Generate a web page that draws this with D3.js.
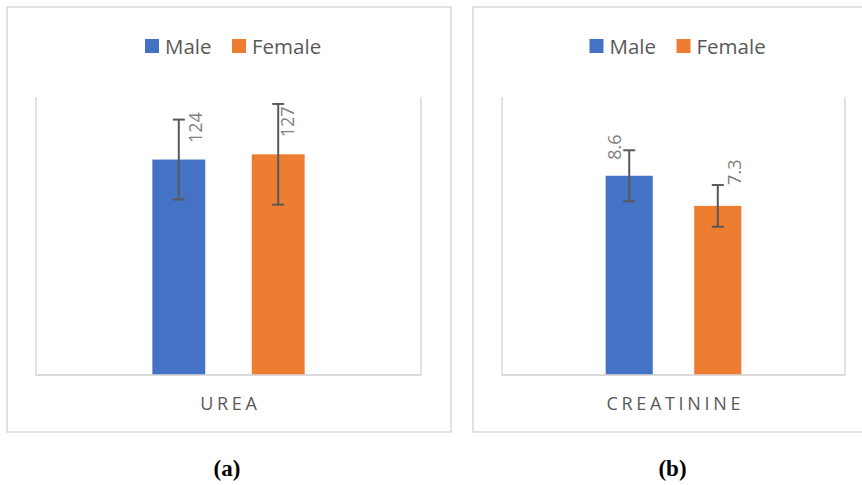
<!DOCTYPE html>
<html>
<head>
<meta charset="utf-8">
<script src="https://cdn.jsdelivr.net/npm/d3@7"></script>
<style>
  html, body { margin: 0; padding: 0; background: #fff; }
  svg { display: block; }
</style>
</head>
<body>
<svg id="chart" width="862" height="485"></svg>
<script>
// Serum urea and creatinine by sex: mean with standard deviation
const series = ["Male", "Female"];
const seriesColors = ["#4472c4", "#ed7d31"];

const ureaCategory = ["UREA"];
const ureaMeans = [124, 127];
const ureaSD = [23, 29];
const ureaTicks = [0, 160];

const creatCategory = ["CREATININE"];
const creatMeans = [8.6, 7.3];
const creatSD = [1.1, 0.9];
const creatTicks = [0, 12];

const panelCaptions = ["(a)", "(b)"];

const svg = d3.select("#chart");
const gridColor = "#d9d9d9";
const textColor = "#595959";
const labelColor = "#7f7f7f";
const font = "'Open Sans', 'Noto Sans', sans-serif";

function drawPanel(cfg) {
  const g = svg.append("g");

  // chart frame
  g.append("rect")
    .attr("x", cfg.frame[0]).attr("y", cfg.frame[1])
    .attr("width", cfg.frame[2]).attr("height", cfg.frame[3])
    .attr("fill", "#fff").attr("stroke", gridColor).attr("stroke-width", 1.5);

  const left = cfg.plot[0], right = cfg.plot[1], top = cfg.plot[2], bottom = cfg.plot[3];

  const y = d3.scaleLinear().domain(cfg.ticks).range([bottom, top]);

  // one category, two series side by side (gap width 220%, overlap -88%)
  const x0 = d3.scaleBand().domain(cfg.category).range([left, right])
    .paddingInner(0).paddingOuter(0.764);
  const x1 = d3.scaleBand().domain(series).range([0, x0.bandwidth()])
    .paddingInner(0.468).paddingOuter(0);

  // plot area edges
  g.append("path")
    .attr("d", `M${left},${top}V${bottom}H${right}V${top}`)
    .attr("fill", "none").attr("stroke", gridColor).attr("stroke-width", 1.5);

  const rows = series.map((s, i) => ({
    s, v: cfg.means[i], sd: cfg.sd[i], color: seriesColors[i], nudge: cfg.nudges[i]
  }));
  const cx = d => x0(cfg.category[0]) + x1(d.s) + x1.bandwidth() / 2;

  // bars
  g.selectAll("rect.bar").data(rows).join("rect")
    .attr("class", "bar")
    .attr("x", d => x0(cfg.category[0]) + x1(d.s))
    .attr("width", x1.bandwidth())
    .attr("y", d => y(d.v))
    .attr("height", d => y(0) - y(d.v))
    .attr("fill", d => d.color);

  // baseline redrawn over bars
  g.append("line")
    .attr("x1", left).attr("x2", right).attr("y1", bottom).attr("y2", bottom)
    .attr("stroke", gridColor).attr("stroke-width", 1.5);

  // error bars
  const cap = 6;
  const eb = g.selectAll("g.err").data(rows).join("g").attr("class", "err")
    .attr("stroke", "#595959").attr("stroke-width", 2);
  eb.append("line")
    .attr("x1", cx).attr("x2", cx)
    .attr("y1", d => y(d.v + d.sd)).attr("y2", d => y(d.v - d.sd));
  eb.append("line")
    .attr("x1", d => cx(d) - cap).attr("x2", d => cx(d) + cap)
    .attr("y1", d => y(d.v + d.sd)).attr("y2", d => y(d.v + d.sd));
  eb.append("line")
    .attr("x1", d => cx(d) - cap).attr("x2", d => cx(d) + cap)
    .attr("y1", d => y(d.v - d.sd)).attr("y2", d => y(d.v - d.sd));

  // rotated value labels
  g.selectAll("text.val").data(rows).join("text")
    .attr("class", "val")
    .attr("transform", d => `translate(${cx(d) + d.nudge[0]},${y(d.v) - d.nudge[1]}) rotate(-90)`)
    .attr("dy", "0.36em")
    .attr("text-anchor", "start")
    .attr("font-family", font).attr("font-size", 18)
    .attr("fill", labelColor)
    .text(d => d.v);

  // legend
  const lx = cfg.legendCenter;
  const legend = g.append("g").attr("font-family", font).attr("font-size", 20.5).attr("fill", textColor);
  const legendPos = [[lx - 84, lx - 64], [lx + 3, lx + 23]];
  series.forEach((s, i) => {
    legend.append("rect").attr("x", legendPos[i][0]).attr("y", 39)
      .attr("width", 14).attr("height", 14).attr("fill", seriesColors[i]);
    legend.append("text").attr("x", legendPos[i][1]).attr("y", 53.5).text(s);
  });

  // category label
  const spacing = 3.7;
  g.append("text")
    .attr("x", x0(cfg.category[0]) + x0.bandwidth() / 2 + spacing / 2)
    .attr("y", 410)
    .attr("text-anchor", "middle")
    .attr("font-family", font).attr("font-size", 18)
    .attr("letter-spacing", spacing)
    .attr("fill", textColor)
    .text(cfg.category[0]);

  // panel caption
  svg.append("text")
    .attr("x", cfg.captionX).attr("y", 476)
    .attr("text-anchor", "middle")
    .attr("font-family", "'Liberation Serif', 'DejaVu Serif', serif")
    .attr("font-weight", "bold").attr("font-size", 23)
    .attr("fill", "#000")
    .text(cfg.caption);
}

drawPanel({
  frame: [7, 7, 444, 425],
  plot: [36, 421, 97, 375],
  ticks: ureaTicks,
  category: ureaCategory,
  means: ureaMeans,
  sd: ureaSD,
  nudges: [[17, 16.5], [9, 17]],
  legendCenter: 229,
  caption: panelCaptions[0],
  captionX: 227
});

drawPanel({
  frame: [473, 7, 450, 425],
  plot: [502, 845, 97, 375],
  ticks: creatTicks,
  category: creatCategory,
  means: creatMeans,
  sd: creatSD,
  nudges: [[-14.5, 16], [16.5, 21]],
  legendCenter: 673.5,
  caption: panelCaptions[1],
  captionX: 672.5
});
</script>
</body>
</html>
